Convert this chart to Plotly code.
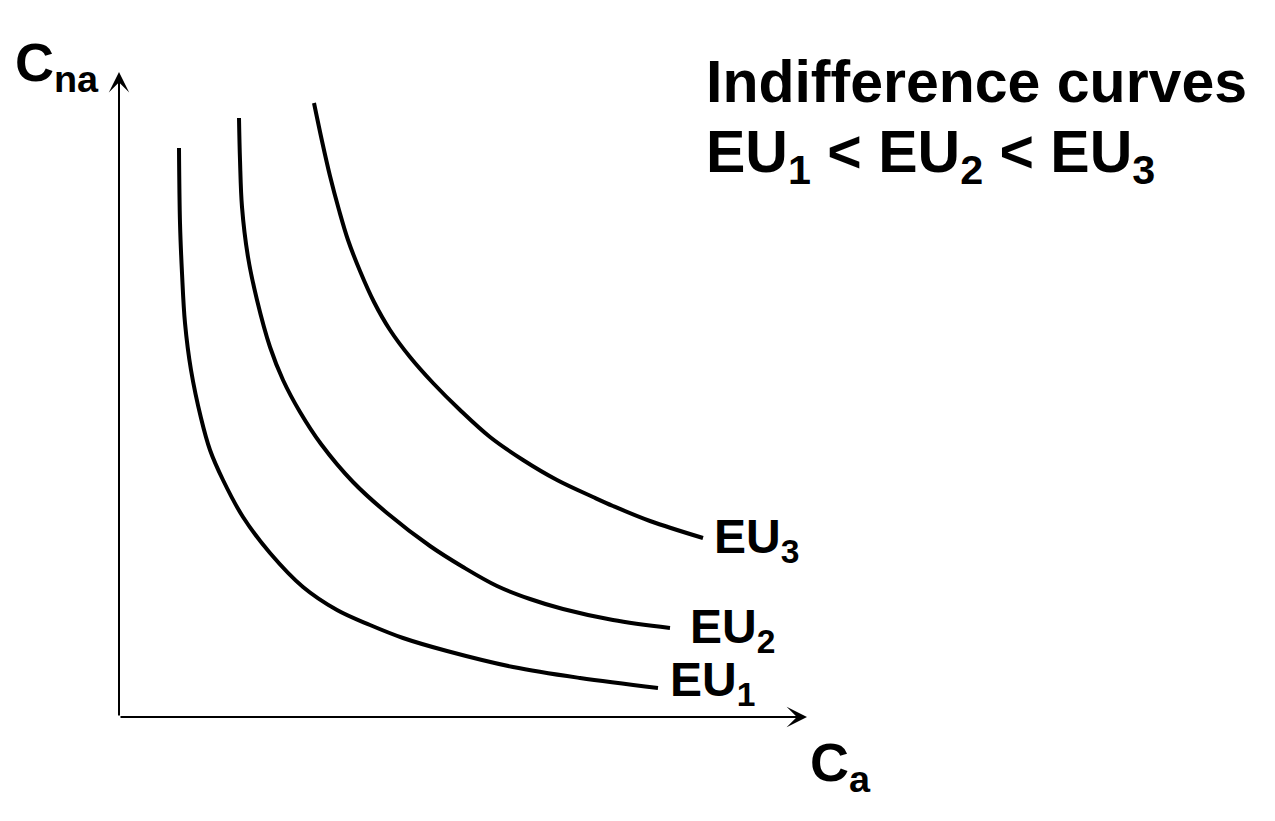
import plotly.graph_objects as go

# indifference curves (origin = where the axes meet)
eu1_x = [60, 61, 63, 66, 72, 82, 91, 104, 124, 151, 184, 218, 251, 284, 328, 394, 461, 539]
eu1_y = [569, 494, 444, 394, 347, 299, 267, 237, 200, 164, 130, 107, 92, 79, 66, 50, 39, 29]

eu2_x = [120, 121, 123, 129, 138, 151, 164, 181, 202, 234, 268, 311, 344, 378, 411, 444, 494, 551]
eu2_y = [599, 557, 510, 460, 417, 370, 337, 305, 273, 235, 204, 171, 150, 131, 118, 108, 97, 89]

eu3_x = [195, 203, 211, 220, 229, 241, 255, 271, 291, 314, 341, 371, 404, 438, 474, 494, 531, 584]
eu3_y = [614, 576, 541, 507, 477, 446, 415, 387, 360, 334, 307, 280, 257, 237, 220, 211, 196, 179]

curve_labels = ['EU<sub>1</sub>', 'EU<sub>2</sub>', 'EU<sub>3</sub>']
label_x = [549, 569, 593]
label_y = [34, 87, 177]

FONT = 'Liberation Sans, Arial, sans-serif'

fig = go.Figure()
for xs, ys in [(eu1_x, eu1_y), (eu2_x, eu2_y), (eu3_x, eu3_y)]:
    fig.add_trace(go.Scatter(x=xs, y=ys, mode='lines',
                             line=dict(color='black', width=4, shape='spline', smoothing=1),
                             hoverinfo='skip', showlegend=False))

# axes drawn as arrows
arrow = dict(text='', showarrow=True, arrowhead=3, arrowsize=1.7, arrowwidth=2,
             arrowcolor='black', standoff=0, startstandoff=0,
             axref='x', ayref='y', xref='x', yref='y')
fig.add_annotation(x=0, y=645, ax=0, ay=0, **arrow)
fig.add_annotation(x=688, y=0, ax=0, ay=0, **arrow)

for t, lx, ly in zip(curve_labels, label_x, label_y):
    fig.add_annotation(x=lx, y=ly, text=t, showarrow=False, xanchor='left', yanchor='middle',
                       font=dict(family=FONT, size=48, color='black', weight='bold'))

fig.add_annotation(x=-106, y=651, text='C<sub>na</sub>', showarrow=False,
                   xanchor='left', yanchor='middle',
                   font=dict(family=FONT, size=54, color='black', weight='bold'))
fig.add_annotation(x=689, y=-49, text='C<sub>a</sub>', showarrow=False,
                   xanchor='left', yanchor='middle',
                   font=dict(family=FONT, size=54, color='black', weight='bold'))

fig.add_annotation(x=585, y=635, text='Indifference curves',
                   showarrow=False, xanchor='left', yanchor='middle',
                   font=dict(family=FONT, size=59, color='black', weight='bold'))
fig.add_annotation(x=585, y=561, text='EU<sub>1</sub> &lt; EU<sub>2</sub> &lt; EU<sub>3</sub>',
                   showarrow=False, xanchor='left', yanchor='middle',
                   font=dict(family=FONT, size=59, color='black', weight='bold'))

# page body keeps an 8px margin, so the figure is 16px smaller than the window
fig.update_layout(width=1259, height=805, margin=dict(l=0, r=0, t=0, b=0),
                  paper_bgcolor='white', plot_bgcolor='white',
                  xaxis=dict(range=[-111, 1148], visible=False, fixedrange=True),
                  yaxis=dict(range=[-96, 709], visible=False, fixedrange=True))

fig.write_html('out.html')
